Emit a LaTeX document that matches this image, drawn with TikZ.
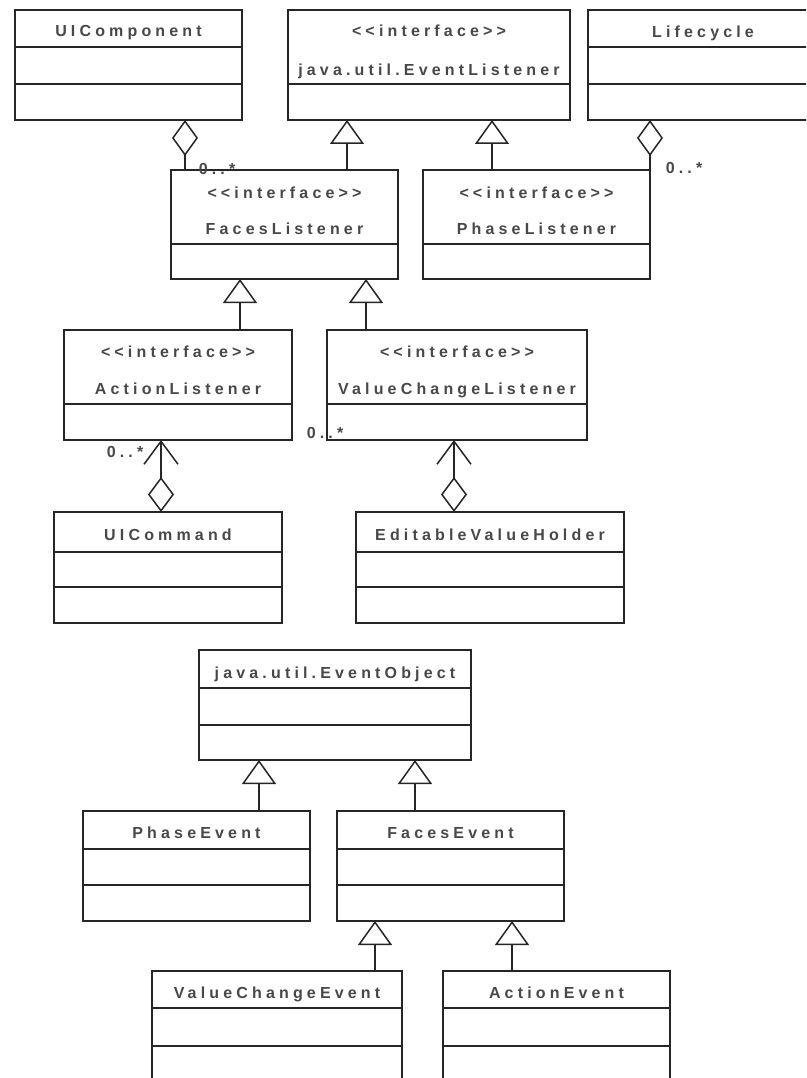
\documentclass[tikz,border=0pt]{standalone}
\usepackage{fontspec}
\setmainfont{Liberation Sans}[LetterSpace=26, Ligatures=TeXOff]
\usetikzlibrary{arrows.meta}
\definecolor{ink}{HTML}{262626}
\definecolor{txt}{HTML}{484848}

% class box from (x1,y1) to (x2,y2), y grows downwards
\newcommand\classbox[5]{\node[cls, minimum width={(#4-#2)*1pt}, minimum height={(#5-#3)*1pt}] (#1) at ({(#2+#4)/2},{(#3+#5)/2}) {};}
% horizontal compartment separator of a class box at height y
\newcommand\compline[2]{\draw[sep] (#1.west |- 0,#2) -- (#1.east |- 0,#2);}
% text line of a class box, centred, with its baseline at y
\newcommand\classtext[4]{\node[lbl] (#1) at (#2.north |- 0,#3) {#4};}
\newcommand\stereo{<{}<interface>{}>}

\begin{document}
\begin{tikzpicture}[x=1pt, y=-1pt,
  cls/.style={draw=ink, line width=1.5pt, inner sep=0pt, outer sep=0pt},
  sep/.style={draw=ink, line width=1.5pt},
  lbl/.style={anchor=base, text=txt, inner sep=0pt, font=\fontsize{16}{19}\selectfont\bfseries},
  gen/.style={draw=ink, line width=1.5pt, -{Triangle[open, length=24pt, width=34pt]}},
  agg/.style={draw=ink, line width=1.5pt, -{Diamond[open, length=36pt, width=26pt]}},
  navagg/.style={draw=ink, line width=1.5pt, {Straight Barb[length=23pt, width=34pt]}-{Diamond[open, length=35pt, width=26pt]}}]

\fill[white] (0,0) rectangle (806,1078);
\path[use as bounding box, clip] (0,0) rectangle (806,1078);

% ---- listener side ----
\classbox{uic}{15}{10}{242}{120}
\compline{uic}{47}\compline{uic}{84}
\classtext{uicN}{uic}{37}{UIComponent}

\classbox{el}{288}{10}{570}{120}
\compline{el}{84}
\classtext{elS}{el}{37}{\stereo}
\classtext{elN}{el}{76}{java.util.EventListener}

\classbox{lc}{588}{10}{818}{120}
\compline{lc}{47}\compline{lc}{84}
\classtext{lcN}{lc}{38}{Lifecycle}

\classbox{fl}{171}{170}{398}{279}
\compline{fl}{244}
\classtext{flS}{fl}{198}{\stereo}
\classtext{flN}{fl}{234}{FacesListener}

\classbox{pl}{423}{170}{650}{279}
\compline{pl}{244}
\classtext{plS}{pl}{198}{\stereo}
\classtext{plN}{pl}{234}{PhaseListener}

\classbox{al}{64}{330}{292}{440}
\compline{al}{404}
\classtext{alS}{al}{357}{\stereo}
\classtext{alN}{al}{394}{ActionListener}

\classbox{vcl}{327}{330}{587}{440}
\compline{vcl}{404}
\classtext{vclS}{vcl}{357}{\stereo}
\classtext{vclN}{vcl}{394}{ValueChangeListener}

\classbox{uc}{54}{512}{282}{623}
\compline{uc}{552}\compline{uc}{587}
\classtext{ucN}{uc}{540}{UICommand}

\classbox{evh}{356}{512}{624}{623}
\compline{evh}{552}\compline{evh}{587}
\classtext{evhN}{evh}{540}{EditableValueHolder}

% ---- event side ----
\classbox{eo}{199}{650}{471}{760}
\compline{eo}{688}\compline{eo}{725}
\classtext{eoN}{eo}{678}{java.util.EventObject}

\classbox{pe}{83}{811}{310}{921}
\compline{pe}{849}\compline{pe}{885}
\classtext{peN}{pe}{838}{PhaseEvent}

\classbox{fe}{337}{811}{564}{921}
\compline{fe}{849}\compline{fe}{885}
\classtext{feN}{fe}{838}{FacesEvent}

\classbox{vce}{152}{971}{402}{1100}
\compline{vce}{1008}\compline{vce}{1046}
\classtext{vceN}{vce}{998}{ValueChangeEvent}

\classbox{ae}{443}{971}{670}{1100}
\compline{ae}{1008}\compline{ae}{1046}
\classtext{aeN}{ae}{998}{ActionEvent}

% ---- generalizations ----
\draw[gen] (fl.north -| 347,0) -- (el.south -| 347,0);
\draw[gen] (pl.north -| 492,0) -- (el.south -| 492,0);
\draw[gen] (al.north -| 240,0) -- (fl.south -| 240,0);
\draw[gen] (vcl.north -| 366,0) -- (fl.south -| 366,0);
\draw[gen] (pe.north -| 259,0) -- (eo.south -| 259,0);
\draw[gen] (fe.north -| 415,0) -- (eo.south -| 415,0);
\draw[gen] (vce.north -| 375,0) -- (fe.south -| 375,0);
\draw[gen] (ae.north -| 512,0) -- (fe.south -| 512,0);

% ---- aggregations ----
\draw[agg] (fl.north -| 185,0) -- (uic.south -| 185,0);
\draw[agg] (pl.north east) -- (lc.south -| pl.north east);
\draw[navagg] (al.south -| 161,0) -- (uc.north -| 161,0);
\draw[navagg] (vcl.south -| 454,0) -- (evh.north -| 454,0);

% ---- multiplicities ----
\node[lbl] (m1) at (217,175) {0..*};
\node[lbl] (m2) at (684,174) {0..*};
\node[lbl] (m3) at (125,457) {0..*};
\node[lbl] (m4) at (325,438) {0..*};
\end{tikzpicture}
\end{document}
